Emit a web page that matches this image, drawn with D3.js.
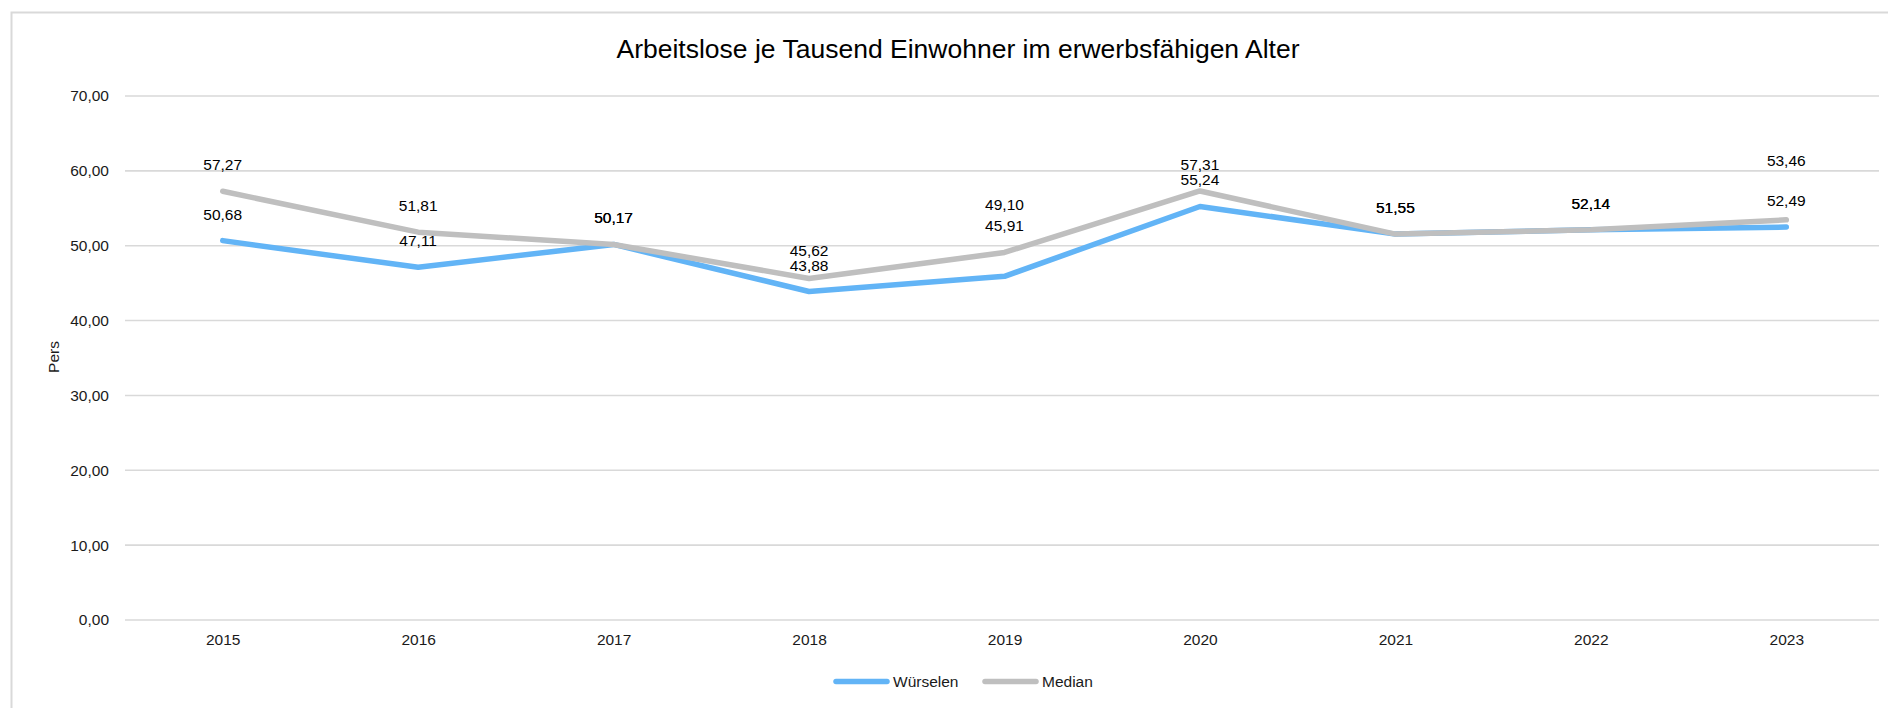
<!DOCTYPE html>
<html>
<head>
<meta charset="utf-8">
<script src="https://cdn.jsdelivr.net/npm/d3@7"></script>
<style>
  html, body { margin: 0; padding: 0; background: #fff; }
  svg { display: block; font-family: "Liberation Sans", Arial, sans-serif; }
</style>
</head>
<body>
<svg id="chart" width="1888" height="708"></svg>
<script>
// Chart content
const title = "Arbeitslose je Tausend Einwohner im erwerbsfähigen Alter";
const yAxisTitle = "Pers";
const years = ["2015", "2016", "2017", "2018", "2019", "2020", "2021", "2022", "2023"];
const wuerselen = [50.68, 47.11, 50.17, 43.88, 45.91, 55.24, 51.55, 52.14, 52.49];
const median = [57.27, 51.81, 50.17, 45.62, 49.10, 57.31, 51.55, 52.14, 53.46];
const yTicks = [0, 10, 20, 30, 40, 50, 60, 70];
const seriesNames = ["Würselen", "Median"];

// Layout
const W = 1888, H = 708;
const plot = { left: 125, right: 1884, top: 96, bottom: 620 };
const colors = { "Würselen": "#62b4f6", "Median": "#bfbfbf" };
// extra upward shift (px) for labels that are moved away from crowded spots
const labelLift = {
  "Würselen": [0, 0, 0, 0, 24, 0, 0, 0, 0],
  "Median":   [0, 0, 0, 2, 21, 0, 0, 0, 33]
};

const fmt = v => d3.format(".2f")(v).replace(".", ",");

const svg = d3.select("#chart");

// outer frame (right and bottom edges run past the canvas)
svg.append("rect")
  .attr("x", 11.5).attr("y", 12.5)
  .attr("width", W + 20).attr("height", H + 20)
  .attr("fill", "#fff")
  .attr("stroke", "#d9d9d9").attr("stroke-width", 2);

const x = d3.scalePoint().domain(years).range([plot.left, plot.right]).padding(0.5);
const y = d3.scaleLinear().domain([0, 70]).range([plot.bottom, plot.top]);

// horizontal gridlines
svg.append("g").selectAll("line").data(yTicks).join("line")
  .attr("x1", plot.left).attr("x2", plot.right - 5)
  .attr("y1", d => y(d)).attr("y2", d => y(d))
  .attr("stroke", "#d9d9d9").attr("stroke-width", 1.6);

// y axis labels
const yAxis = d3.axisLeft(y).tickValues(yTicks).tickFormat(fmt).tickSize(0).tickPadding(16);
const yg = svg.append("g").attr("transform", `translate(${plot.left},0)`).call(yAxis);
yg.select(".domain").remove();
yg.selectAll("text").attr("font-size", "15.5px").attr("fill", "#1a1a1a")
  .attr("font-family", "Liberation Sans, Arial, sans-serif");

// x axis labels
const xAxis = d3.axisBottom(x).tickSize(0).tickPadding(14);
const xg = svg.append("g").attr("transform", `translate(0,${plot.bottom})`).call(xAxis);
xg.select(".domain").remove();
xg.selectAll("text").attr("font-size", "15.5px").attr("fill", "#1a1a1a")
  .attr("font-family", "Liberation Sans, Arial, sans-serif");

// title
svg.append("text")
  .attr("x", 958).attr("y", 58)
  .attr("text-anchor", "middle")
  .attr("font-size", "26.5px").attr("fill", "#000")
  .text(title);

// y axis title
svg.append("text")
  .attr("transform", "translate(59,357) rotate(-90)")
  .attr("text-anchor", "middle")
  .attr("font-size", "15.5px").attr("fill", "#1a1a1a")
  .text(yAxisTitle);

// series lines
const series = [
  { name: "Würselen", values: wuerselen },
  { name: "Median", values: median }
];
const line = d3.line().x((d, i) => x(years[i])).y(d => y(d));

series.forEach(s => {
  svg.append("path")
    .datum(s.values)
    .attr("d", line)
    .attr("fill", "none")
    .attr("stroke", colors[s.name])
    .attr("stroke-width", 5.5)
    .attr("stroke-linejoin", "round")
    .attr("stroke-linecap", "round");
});

// data labels
series.forEach(s => {
  svg.append("g").selectAll("text").data(s.values).join("text")
    .attr("x", (d, i) => x(years[i]))
    .attr("y", (d, i) => y(d) - 21 - labelLift[s.name][i])
    .attr("text-anchor", "middle")
    .attr("font-size", "15.5px").attr("fill", "#000")
    .text(d => fmt(d));
});

// legend
const legendItems = [
  { name: seriesNames[0], x: 836 },
  { name: seriesNames[1], x: 985 }
];
const lg = svg.append("g");
legendItems.forEach(it => {
  lg.append("line")
    .attr("x1", it.x).attr("x2", it.x + 51)
    .attr("y1", 681.5).attr("y2", 681.5)
    .attr("stroke", colors[it.name]).attr("stroke-width", 5.5)
    .attr("stroke-linecap", "round");
  lg.append("text")
    .attr("x", it.x + 57).attr("y", 687)
    .attr("font-size", "15.5px").attr("fill", "#1a1a1a")
    .text(it.name);
});
</script>
</body>
</html>
